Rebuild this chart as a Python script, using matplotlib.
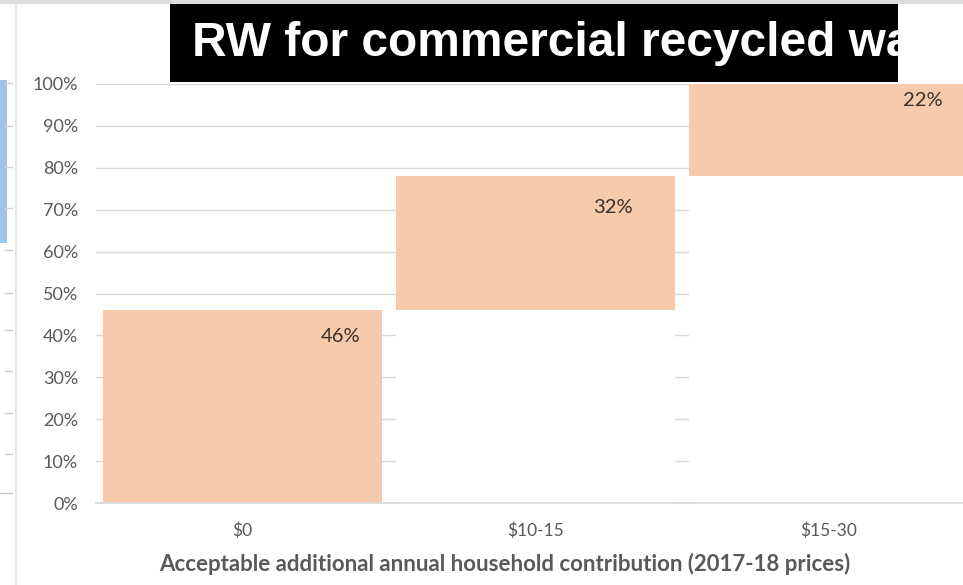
import numpy as np
import matplotlib
matplotlib.use('Agg')
import matplotlib.pyplot as plt
from matplotlib.patches import Rectangle
from matplotlib.lines import Line2D

# chart data
categories = ['$0', '$10-15', '$15-30']
shares = [46, 32, 22]
y_ticks = [0, 10, 20, 30, 40, 50, 60, 70, 80, 90, 100]
title = 'RW for commercial recycled water'
x_label = 'Acceptable additional annual household contribution (2017-18 prices)'

# label offsets (pixels) from the top centre of each bar, as placed in the original
label_offsets = [(98, -26), (77, -31), (94, -17)]

W, H = 963, 585
bar_color = '#F7CAAC'
grey_text = '#595959'
grid_color = '#D9D9D9'


def px(x, y):
    """pixel position from top-left -> figure fraction"""
    return x / W, 1 - y / H


fig = plt.figure(figsize=(W / 100, H / 100), dpi=100)
fig.patch.set_facecolor('white')

# axes spans past the right edge, the screenshot is cropped there
ax = fig.add_axes([96 / W, 82 / H, 879 / W, 419 / H])
ax.set_facecolor('white')

x = np.arange(len(categories))
tops = np.cumsum(shares)
bases = tops - np.array(shares)

ax.set_axisbelow(True)
ax.yaxis.grid(True, color=grid_color, linewidth=1.0)
# invisible (white) base series hides the gridlines, like the Excel waterfall trick
ax.bar(x, bases, width=0.952, color='white', zorder=2)
ax.bar(x, shares, bottom=bases, width=0.952, color=bar_color, zorder=3)

for i, (s, t) in enumerate(zip(shares, tops)):
    dx, dy = label_offsets[i]
    ax.annotate(f'{s}%', xy=(x[i], t), xytext=(dx, dy), textcoords='offset pixels',
                ha='center', va='center', fontsize=14.5, color='#3A2E2A',
                family='Lato', zorder=5)

ax.set_xlim(-0.5, 2.5)
ax.set_ylim(0, 100)
ax.set_yticks(y_ticks)
ax.set_yticklabels([f'{v}%' for v in y_ticks])
ax.set_xticks(x)
ax.set_xticklabels(categories)
ax.tick_params(axis='both', length=0, labelcolor=grey_text)
ax.tick_params(axis='y', pad=13, labelsize=13)
ax.tick_params(axis='x', pad=14, labelsize=12.5)
for lab in ax.get_xticklabels() + ax.get_yticklabels():
    lab.set_family('Lato')

for side in ['top', 'right', 'left']:
    ax.spines[side].set_visible(False)
ax.spines['bottom'].set_color(grid_color)
ax.spines['bottom'].set_linewidth(1.2)
ax.spines['bottom'].set_zorder(4)

fig.text(505 / W, 1 - 564 / H, x_label, ha='center', va='center', fontsize=16,
         fontweight='bold', color=grey_text, family='Lato')

# black title box, text cut off at its right edge
x0, y0 = px(170, 82)
x1, y1 = px(898, 4)
box = Rectangle((x0, y0), x1 - x0, y1 - y0, transform=fig.transFigure,
                facecolor='black', edgecolor='none', zorder=10)
fig.patches.append(box)
t = fig.text(192 / W, 1 - 44 / H, title, ha='left', va='center', fontsize=34.5,
             fontweight='bold', color='white', family='Liberation Sans', zorder=11)
t.set_clip_path(box)

# bits of the neighbouring slide visible on the left
fig.add_artist(Line2D([16 / W, 16 / W], [0, 1], color='#E3E3E3', linewidth=1.2))
fig.add_artist(Line2D([0, 1], [1 - 1.5 / H, 1 - 1.5 / H], color='#DDDDDD', linewidth=3))
bx0, by0 = px(0, 243)
fig.patches.append(Rectangle((bx0, by0), 7 / W, 163 / H, transform=fig.transFigure,
                             facecolor='#9DC3E6', edgecolor='none'))
for yy in [83, 126, 167, 208, 250, 293, 330, 371, 413, 454]:
    fig.add_artist(Line2D([5 / W, 12 / W], [1 - yy / H] * 2, color='#D0D0D0', linewidth=1))
fig.add_artist(Line2D([0, 12 / W], [1 - 493 / H] * 2, color='#C8C8C8', linewidth=1))

fig.savefig('out.png', dpi=100)
